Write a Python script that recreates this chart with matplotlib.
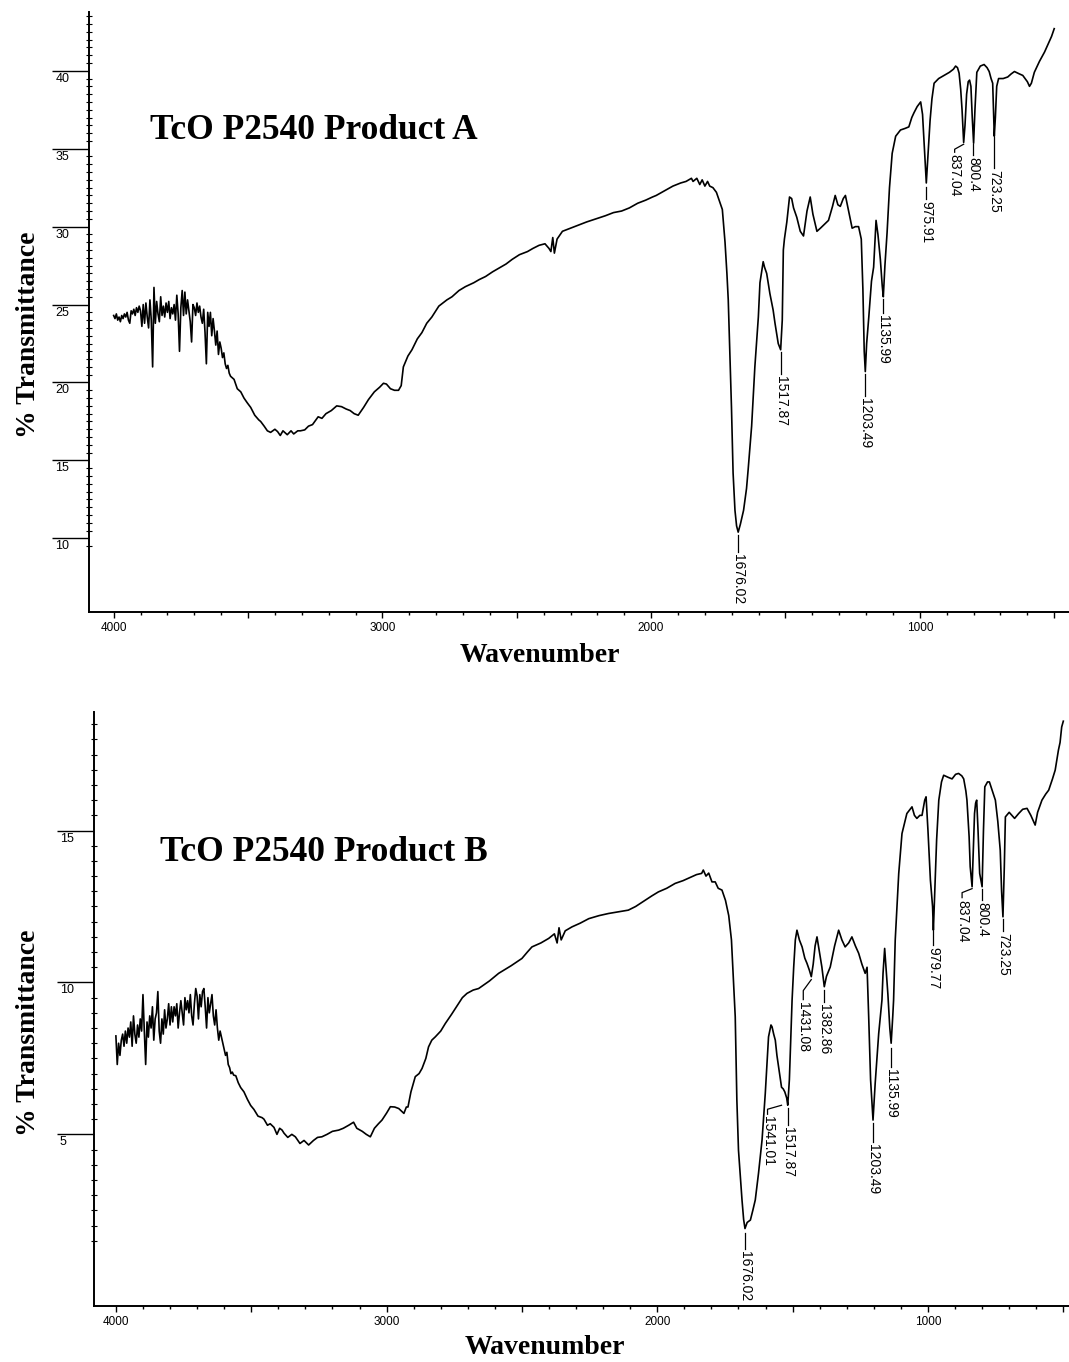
import matplotlib
matplotlib.use("Agg")

import numpy as np
import matplotlib.pyplot as plt
from matplotlib.ticker import FixedLocator, MultipleLocator, NullFormatter, FuncFormatter

# noisy high-wavenumber end, shared grid for both products
wn_noise = [4000, 3995, 3990, 3985, 3980, 3975, 3970, 3965, 3960, 3955,
            3950, 3945, 3940, 3935, 3930, 3925, 3920, 3915, 3910, 3905,
            3900, 3895, 3890, 3885, 3880, 3875, 3870, 3865, 3860, 3855,
            3850, 3845, 3840, 3835, 3830, 3825, 3820, 3815, 3810, 3805,
            3800, 3795, 3790, 3785, 3780, 3775, 3770, 3765, 3760, 3755,
            3750, 3745, 3740, 3735, 3730, 3725, 3720, 3715, 3710, 3705,
            3700, 3695, 3690, 3685, 3680, 3675, 3670, 3665, 3660, 3655,
            3650, 3645, 3640, 3635, 3630, 3625, 3620, 3615, 3610, 3605,
            3600, 3595, 3590, 3585, 3580, 3575, 3570, 3565]
t_a_noise = [24.3, 24.1, 24.4, 24.0, 24.2, 23.9, 24.3, 24.1, 24.4, 24.2,
             24.5, 24.0, 23.8, 24.6, 24.4, 24.7, 24.3, 24.8, 24.5, 24.9,
             24.6, 23.6, 25.0, 23.8, 25.1, 24.2, 23.5, 25.3, 24.0, 21.0,
             26.1, 23.8, 25.2, 24.4, 23.9, 25.5, 24.3, 24.9, 24.2, 25.1,
             24.5, 25.2, 24.1, 24.8, 24.4, 25.0, 24.0, 25.6, 24.4, 22.0,
             24.8, 25.9, 24.3, 25.8, 24.4, 25.3, 24.6, 23.9, 22.6, 25.0,
             24.8, 24.3, 25.1, 24.5, 24.9, 24.2, 23.8, 24.7, 23.2, 21.2,
             24.5, 23.6, 24.5, 23.0, 24.1, 23.3, 22.4, 23.3, 21.8, 22.6,
             22.2, 21.6, 21.9, 21.2, 20.9, 21.1, 20.6, 20.4]
t_b_noise = [8.24, 7.3, 8.0, 7.6, 8.1, 8.3, 7.9, 8.4, 8.0, 8.5,
             8.2, 8.7, 7.9, 8.9, 8.3, 8.0, 8.6, 8.2, 8.8, 8.4,
             9.6, 8.4, 7.3, 8.7, 8.2, 8.9, 8.5, 9.2, 8.1, 8.8,
             9.0, 9.7, 8.4, 8.0, 8.8, 8.3, 9.1, 8.5, 8.8, 9.3,
             8.6, 9.2, 8.7, 9.2, 8.9, 9.3, 8.5, 9.0, 9.4, 9.0,
             8.6, 9.5, 9.1, 9.4, 9.0, 9.6, 8.9, 8.6, 9.3, 9.8,
             9.55, 8.8, 9.6, 9.2, 9.7, 9.8, 9.2, 8.5, 9.5, 9.0,
             9.3, 9.6, 8.9, 8.6, 9.1, 8.5, 8.1, 8.4, 8.2, 8.0,
             7.8, 7.6, 7.7, 7.3, 7.2, 7.0, 7.05, 6.95]

# product A spectrum below 3565 (wavenumber, % transmittance)
wn_a = [3552, 3540, 3527, 3515, 3503, 3490, 3475, 3460, 3453, 3440,
        3428, 3416, 3400, 3390, 3380, 3370, 3354, 3340, 3330, 3315,
        3305, 3289, 3275, 3260, 3239, 3225, 3210, 3190, 3170, 3152,
        3135, 3120, 3105, 3090, 3070, 3052, 3030, 3010, 2996, 2985,
        2970, 2955, 2940, 2930, 2922, 2905, 2890, 2870, 2853, 2835,
        2816, 2790, 2760, 2741, 2715, 2691, 2660, 2640, 2616, 2590,
        2560, 2540, 2517, 2490, 2460, 2440, 2417, 2395, 2380, 2373,
        2366, 2360, 2350, 2330, 2300, 2270, 2240, 2205, 2170, 2140,
        2110, 2081, 2050, 2020, 1995, 1981, 1950, 1919, 1890, 1870,
        1850, 1844, 1830, 1819, 1810, 1800, 1790, 1782, 1770, 1757,
        1745, 1735, 1725, 1718, 1713, 1707, 1701, 1695, 1688, 1682,
        1676, 1668, 1656, 1645, 1639, 1626, 1614, 1601, 1595, 1583,
        1578, 1570, 1558, 1546, 1539, 1527, 1518, 1512, 1508, 1504,
        1495, 1485, 1477, 1470, 1458, 1445, 1433, 1420, 1408, 1398,
        1383, 1370, 1358, 1340, 1325, 1315, 1305, 1296, 1285, 1277,
        1265, 1252, 1240, 1228, 1218, 1212, 1207, 1203, 1198, 1190,
        1180, 1172, 1163, 1156, 1147, 1140, 1136, 1130, 1122, 1113,
        1103, 1090, 1072, 1055, 1041, 1030, 1022, 1010, 997, 990,
        983, 976, 970, 962, 955, 947, 930, 910, 890, 875,
        867, 860, 854, 848, 843, 837, 832, 826, 820, 815,
        810, 805, 800, 795, 788, 775, 761, 750, 742, 735,
        729, 726, 723, 719, 714, 707, 690, 673, 660, 648,
        630, 617, 600, 592, 585, 574, 555, 536, 518, 510,
        500]
t_a = [20.2, 19.6, 19.4, 19.0, 18.7, 18.4, 17.9, 17.6, 17.5, 17.2,
       16.9, 16.8, 17.0, 16.85, 16.6, 16.9, 16.65, 16.9, 16.7, 16.9,
       16.9, 16.96, 17.2, 17.3, 17.8, 17.7, 18.0, 18.2, 18.5, 18.45,
       18.3, 18.2, 18.0, 17.9, 18.4, 18.9, 19.4, 19.7, 19.95, 19.9,
       19.6, 19.5, 19.5, 19.8, 21.0, 21.7, 22.1, 22.8, 23.2, 23.8,
       24.2, 24.9, 25.3, 25.5, 25.9, 26.15, 26.4, 26.6, 26.8, 27.1,
       27.4, 27.6, 27.9, 28.2, 28.4, 28.6, 28.8, 28.9, 28.6, 28.4,
       29.3, 28.3, 29.2, 29.7, 29.9, 30.1, 30.3, 30.5, 30.7, 30.9,
       31.0, 31.2, 31.5, 31.7, 31.9, 32.0, 32.3, 32.6, 32.8, 32.9,
       33.1, 32.9, 33.1, 32.7, 33.0, 32.6, 32.9, 32.6, 32.5, 32.2,
       31.6, 31.1, 29.0, 27.0, 25.3, 21.9, 18.4, 14.2, 11.8, 10.8,
       10.4, 10.9, 11.8, 13.2, 14.4, 17.2, 21.0, 24.2, 26.4, 27.75,
       27.4, 27.0, 25.7, 24.65, 23.8, 22.5, 22.1, 24.0, 28.5, 29.2,
       30.3, 31.9, 31.8, 31.2, 30.6, 29.7, 29.4, 31.0, 31.9, 30.8,
       29.7, 29.9, 30.1, 30.4, 31.3, 32.0, 31.4, 31.3, 31.8, 32.0,
       31.0, 29.9, 30.0, 30.0, 29.2, 26.0, 22.0, 20.7, 22.5, 24.2,
       26.5, 27.4, 30.4, 29.5, 27.9, 26.2, 25.5, 27.5, 29.6, 32.5,
       34.7, 35.8, 36.2, 36.3, 36.4, 37.0, 37.3, 37.7, 38.0, 37.2,
       35.0, 32.8, 34.5, 36.8, 38.2, 39.2, 39.5, 39.7, 39.9, 40.1,
       40.3, 40.2, 39.85, 38.8, 37.5, 35.4, 36.5, 38.5, 39.3, 39.4,
       39.0, 37.0, 35.35, 37.5, 39.9, 40.3, 40.4, 40.2, 39.95, 39.5,
       39.2, 37.5, 35.8, 37.0, 39.0, 39.5, 39.5, 39.6, 39.8, 39.95,
       39.8, 39.7, 39.3, 39.0, 39.2, 39.9, 40.6, 41.2, 41.9, 42.2,
       42.7]

# product B spectrum below 3565
wn_b = [3557, 3548, 3539, 3527, 3514, 3502, 3490, 3475, 3460, 3453,
        3440, 3430, 3416, 3405, 3395, 3386, 3379, 3365, 3350, 3337,
        3320, 3305, 3288, 3270, 3255, 3239, 3220, 3200, 3177, 3160,
        3140, 3122, 3110, 3090, 3075, 3060, 3045, 3030, 3017, 3000,
        2986, 2970, 2955, 2936, 2927, 2921, 2910, 2894, 2880, 2869,
        2855, 2845, 2833, 2820, 2800, 2783, 2760, 2734, 2720, 2703,
        2680, 2660, 2620, 2586, 2540, 2500, 2480, 2463, 2430, 2401,
        2380, 2370, 2363, 2355, 2340, 2315, 2285, 2253, 2215, 2180,
        2140, 2107, 2080, 2044, 2020, 1996, 1965, 1934, 1905, 1873,
        1855, 1836, 1830, 1820, 1810, 1798, 1786, 1775, 1761,
        1748, 1736, 1726, 1718, 1712, 1706, 1700, 1693, 1687, 1681,
        1676, 1668, 1656, 1647, 1638, 1626, 1613, 1601, 1589, 1580,
        1576, 1570, 1564, 1558, 1552, 1545, 1541, 1535, 1529, 1522,
        1518, 1512, 1508, 1502, 1496, 1490, 1484, 1475, 1465, 1455,
        1447, 1438, 1431, 1424, 1417, 1410, 1401, 1392, 1383, 1375,
        1361, 1345, 1330, 1318, 1306, 1293, 1281, 1268, 1256, 1244,
        1232, 1225, 1219, 1212, 1203, 1195, 1182, 1170, 1166, 1160,
        1155, 1148, 1141, 1136, 1130, 1127, 1121, 1108, 1096, 1078,
        1059, 1050, 1041, 1030, 1022, 1012, 1007, 1000, 991, 983,
        980, 975, 968, 960, 950, 942, 925, 911, 898, 887,
        875, 868, 860, 856, 848, 844, 837, 832, 828, 824,
        820, 815, 809, 800, 795, 790, 780, 773, 762, 751,
        742, 733, 728, 723, 718, 714, 700, 690, 680, 665,
        650, 634, 620, 610, 604, 595, 579, 565, 554, 540,
        530, 518, 512, 506, 500]
t_b = [6.93, 6.7, 6.54, 6.4, 6.15, 5.95, 5.82, 5.6, 5.55, 5.5,
       5.3, 5.35, 5.23, 5.0, 5.2, 5.14, 5.04, 4.9, 5.0, 4.92,
       4.7, 4.8, 4.65, 4.8, 4.9, 4.92, 5.0, 5.1, 5.14, 5.2,
       5.3, 5.4, 5.2, 5.1, 5.0, 4.92, 5.2, 5.35, 5.47, 5.7,
       5.91, 5.9, 5.85, 5.69, 5.9, 5.9, 6.4, 6.9, 7.0, 7.17,
       7.5, 7.88, 8.1, 8.21, 8.4, 8.65, 8.95, 9.31, 9.5, 9.64,
       9.75, 9.8, 10.05, 10.3, 10.55, 10.79, 11.0, 11.17, 11.3, 11.45,
       11.6, 11.3, 11.8, 11.4, 11.7, 11.83, 11.95, 12.1, 12.2, 12.27,
       12.33, 12.38, 12.5, 12.71, 12.85, 12.98, 13.1, 13.26, 13.35, 13.48,
       13.55, 13.59, 13.7, 13.5, 13.6, 13.31, 13.31, 13.1, 13.04,
       12.7, 12.2, 11.4, 9.97, 8.87, 6.13, 4.48, 3.6, 2.84, 2.2,
       1.9, 2.1, 2.18, 2.5, 2.84, 3.72, 4.81, 6.35, 8.21, 8.6,
       8.54, 8.3, 8.1, 7.6, 7.22, 6.8, 6.55, 6.5, 6.4, 6.2,
       5.96, 6.8, 7.88, 9.42, 10.51, 11.4, 11.72, 11.4, 11.17, 10.8,
       10.63, 10.4, 10.19, 10.6, 11.2, 11.5, 11.0, 10.51, 9.86, 10.2,
       10.51, 11.2, 11.72, 11.4, 11.17, 11.3, 11.5, 11.2, 10.96, 10.6,
       10.3, 10.5, 8.87, 6.8, 5.47, 6.68, 8.32, 9.42, 10.3, 11.12,
       10.5, 9.6, 8.5, 8.0, 8.9, 9.42, 11.39, 13.59, 14.9, 15.56,
       15.78, 15.5, 15.4, 15.5, 15.5, 16.0, 16.11, 15.0, 13.37, 12.5,
       11.72, 13.0, 14.7, 16.0, 16.6, 16.82, 16.75, 16.7, 16.85, 16.88,
       16.8, 16.7, 16.3, 16.0, 14.8, 13.81, 13.15, 14.5, 15.56, 15.9,
       16.0, 15.0, 13.59, 13.15, 15.0, 16.44, 16.6, 16.6, 16.3, 16.0,
       15.3, 14.35, 13.0, 12.16, 13.8, 15.45, 15.6, 15.5, 15.4, 15.56,
       15.7, 15.73, 15.5, 15.3, 15.18, 15.6, 16.0, 16.2, 16.33, 16.7,
       16.99, 17.65, 17.9, 18.41, 18.6]

# peak labels
peaks_a = ["1676.02", "1517.87", "1203.49", "1135.99", "975.91", "837.04", "800.4", "723.25"]
peaks_b = ["1676.02", "1541.01", "1517.87", "1431.08", "1382.86", "1203.49",
           "1135.99", "979.77", "837.04", "800.4", "723.25"]

# leader paths in pixels below each peak (layout only)
leaders_a = {
    "1676.02": [(0, -3), (0, -20)],
    "1517.87": [(0, -3), (0, -25)],
    "1203.49": [(0, -5), (0, -27)],
    "1135.99": [(0, -2), (0, -16)],
    "975.91": [(0, -4), (0, -16)],
    "837.04": [(0, -2), (-9, -7), (-9, -10)],
    "800.4": [(0, -3), (0, -14)],
    "723.25": [(0, -3), (0, -34)],
}
leaders_b = {
    "1676.02": [(0, -4), (0, -20)],
    "1541.01": [(0, -18), (-14, -22), (-14, -27)],
    "1517.87": [(0, -3), (0, -20)],
    "1431.08": [(0, -3), (-8, -14), (-8, -23)],
    "1382.86": [(0, -3), (0, -15)],
    "1203.49": [(0, -5), (0, -24)],
    "1135.99": [(0, -5), (0, -24)],
    "979.77": [(0, -3), (0, -17)],
    "837.04": [(0, -2), (-10, -6), (-10, -11)],
    "800.4": [(0, -3), (0, -14)],
    "723.25": [(0, -3), (0, -15)],
}

SANS = "Liberation Sans"
SERIF = "Liberation Serif"

fig = plt.figure(figsize=(10.69, 13.62), dpi=100)
ax_a = fig.add_axes([0.0837, 0.5507, 0.9163, 0.4405])
ax_b = fig.add_axes([0.0879, 0.0411, 0.9121, 0.4361])


def draw_panel(ax, wn, t, xlim, ylim, yticks, yminor, peaks, leaders, title, title_pos):
    ax.plot(wn, t, color="black", lw=1.2)
    ax.set_xlim(*xlim)
    ax.set_ylim(*ylim)

    for s in ["top", "right"]:
        ax.spines[s].set_visible(False)
    for s in ["left", "bottom"]:
        ax.spines[s].set_linewidth(1.4)

    # x axis: ticks every 500, labels every 1000
    ax.xaxis.set_major_locator(MultipleLocator(500))
    ax.xaxis.set_minor_locator(MultipleLocator(100))
    ax.xaxis.set_major_formatter(FuncFormatter(lambda v, p: f"{v:.0f}" if v % 1000 == 0 else ""))
    ax.tick_params(axis="x", which="major", length=4.5, width=1, direction="out", pad=3, labelsize=8.5)
    ax.tick_params(axis="x", which="minor", length=2.2, width=1, direction="out")
    for lab in ax.get_xticklabels():
        lab.set_family(SANS)

    # y axis: long major ticks, labels tucked under the tick line
    ax.yaxis.set_major_locator(FixedLocator(yticks))
    ax.yaxis.set_minor_locator(FixedLocator(yminor))
    ax.yaxis.set_major_formatter(NullFormatter())
    ax.tick_params(axis="y", which="major", length=26.5, width=1, direction="out")
    ax.tick_params(axis="y", which="minor", length=4, width=0.8, direction="inout")
    for v in yticks:
        ax.annotate(f"{v:g}", xy=(0, v), xycoords=("axes fraction", "data"),
                    xytext=(-34, -2), textcoords="offset pixels",
                    ha="left", va="top", fontsize=9, family=SANS)

    # peak labels with leader lines
    wn_r = np.array(wn[::-1], dtype=float)
    t_r = np.array(t[::-1], dtype=float)
    inv = ax.transData.inverted()
    for lab in peaks:
        p = float(lab)
        tp = np.interp(p, wn_r, t_r)
        x0, y0 = ax.transData.transform((p, tp))
        path = leaders[lab]
        pts = inv.transform([(x0 + dx, y0 + dy) for dx, dy in path])
        ax.plot(pts[:, 0], pts[:, 1], color="black", lw=0.9, clip_on=False)
        lx, ly = path[-1]
        tx, ty = inv.transform((x0 + lx, y0 + ly - 2))
        ax.text(tx, ty, lab, rotation=270, ha="center", va="top", fontsize=10, family=SANS)

    ax.text(title_pos[0], title_pos[1], title, transform=ax.transAxes,
            fontsize=25.5, fontweight="bold", family=SERIF, ha="left", va="center")


draw_panel(ax_a, wn_noise + wn_a, t_a_noise + t_a, (4090, 445), (5.28, 43.77),
           [10, 15, 20, 25, 30, 35, 40], np.arange(9.5, 43.6, 0.5),
           peaks_a, leaders_a, "TcO P2540 Product A", (0.0618, 0.803))
draw_panel(ax_b, wn_noise + wn_b, t_b_noise + t_b, (4081, 479), (-0.65, 18.9),
           [5, 10, 15], np.arange(1.5, 18.6, 0.5),
           peaks_b, leaders_b, "TcO P2540 Product B", (0.0677, 0.763))

# axis titles
fig.text(0.0262, 0.754, "% Transmittance", rotation=90, ha="center", va="center",
         fontsize=20, fontweight="bold", family=SERIF)
fig.text(0.0262, 0.242, "% Transmittance", rotation=90, ha="center", va="center",
         fontsize=20, fontweight="bold", family=SERIF)
fig.text(0.505, 0.519, "Wavenumber", ha="center", va="center",
         fontsize=20, fontweight="bold", family=SERIF)
fig.text(0.51, 0.0103, "Wavenumber", ha="center", va="center",
         fontsize=20, fontweight="bold", family=SERIF)

fig.savefig("out.png", dpi=100)
